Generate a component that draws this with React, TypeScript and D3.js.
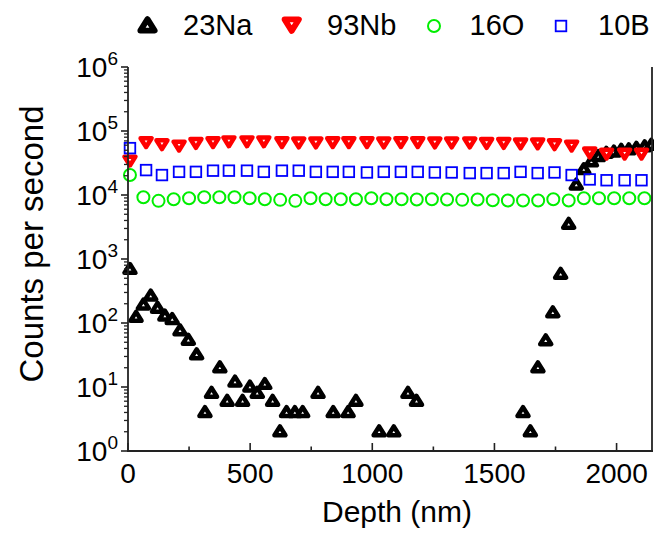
import React, { useEffect, useRef } from 'react';
import * as d3 from 'd3';

// ---- Data
const naDepth = [8, 33, 63, 93, 121, 151, 181, 213, 247, 281, 315, 342, 376, 406, 438, 469, 499, 529, 560, 592, 622, 649, 683, 715, 778, 840, 901, 933, 1028, 1088, 1146, 1181, 1617, 1647, 1678, 1710, 1739, 1771, 1804, 1835, 1866, 1897, 1926, 1958, 1989, 2019, 2050, 2081, 2115, 2142];
const naCounts = [690, 123, 192, 264, 170, 129, 114, 76, 54, 32, 4, 8, 20, 6, 12, 6, 10, 8, 11, 6, 2, 4, 4, 4, 8, 4, 4, 6, 2, 2, 8, 6, 4, 2, 20, 53, 145, 580, 3500, 14400, 25000, 33000, 40000, 45000, 47000, 50000, 51000, 54000, 57000, 60000];

const nbDepth = [8, 74, 139, 209, 278, 348, 413, 487, 556, 630, 699, 769, 838, 904, 978, 1047, 1117, 1186, 1256, 1325, 1399, 1468, 1538, 1607, 1677, 1746, 1816, 1890, 1959, 2033, 2102];
const nbCounts = [35000, 68000, 63000, 60000, 66000, 68000, 70000, 70000, 70000, 68000, 67000, 67000, 68000, 68000, 68000, 67000, 68000, 68000, 67000, 67000, 67000, 66000, 66000, 65000, 65000, 63000, 60000, 47000, 45000, 45000, 45000];

const oDepth = [8, 63, 125, 187, 250, 312, 374, 436, 498, 560, 623, 685, 747, 809, 871, 933, 996, 1058, 1120, 1182, 1244, 1306, 1368, 1431, 1493, 1555, 1617, 1679, 1741, 1804, 1866, 1928, 1990, 2052, 2114];
const oCounts = [20500, 9200, 8100, 8600, 8900, 9200, 9200, 9200, 8900, 8600, 8400, 8100, 8900, 8600, 8600, 8600, 8900, 8600, 8600, 8500, 8600, 8500, 8400, 8500, 8300, 8200, 8200, 8200, 8600, 8200, 8900, 8900, 8900, 8900, 8900];

const bDepth = nbDepth;
const bCounts = [54000, 24500, 20500, 23000, 23000, 24000, 24000, 24000, 23000, 24000, 24000, 23000, 23000, 23000, 22500, 23000, 23000, 23000, 22500, 22500, 22000, 22000, 22000, 23000, 22000, 22500, 20500, 17500, 17000, 17000, 17000];

const seriesNames = ['23Na', '93Nb', '16O', '10B'];
const xTicks = [0, 500, 1000, 1500, 2000];
const xMinorTicks = [250, 750, 1250, 1750];
const yExponents = [0, 1, 2, 3, 4, 5, 6];

const W = 654;
const H = 535;
const FONT = '"Liberation Sans", Arial, sans-serif';

export default function App() {
    const svgRef = useRef<SVGSVGElement>(null);

    useEffect(() => {
        const svg = d3.select(svgRef.current);
        svg.selectAll('*').remove();

        const left = 128, right = 652, top = 67, bottom = 451;

        const x = d3.scaleLinear().domain([0, 2145]).range([left, right]);
        const y = d3.scaleLog().domain([1, 1e6]).range([bottom, top]);

        const g = svg.append('g');

        // ---- marker shapes
        const triUp = (s: number) => {
            const h = s * 0.8;
            return `M0,${-h * 0.6}L${s / 2},${h * 0.4}L${-s / 2},${h * 0.4}Z`;
        };
        const triDown = (s: number) => {
            const h = s * 0.8;
            return `M0,${h * 0.6}L${s / 2},${-h * 0.4}L${-s / 2},${-h * 0.4}Z`;
        };

        const drawMarker = (sel: any, kind: number, scale = 1) => {
            if (kind === 0) {
                sel.append('path').attr('d', triUp(11 * scale))
                    .attr('fill', 'white').attr('stroke', '#000')
                    .attr('stroke-width', 4.5 * scale).attr('stroke-linejoin', 'round');
            } else if (kind === 1) {
                sel.append('path').attr('d', triDown(11 * scale))
                    .attr('fill', 'white').attr('stroke', '#ff0000')
                    .attr('stroke-width', 4.5 * scale).attr('stroke-linejoin', 'round');
            } else if (kind === 2) {
                sel.append('circle').attr('r', 6)
                    .attr('fill', 'none').attr('stroke', '#00ee00').attr('stroke-width', 2);
            } else {
                sel.append('rect').attr('x', -5.3).attr('y', -5.3).attr('width', 10.6).attr('height', 10.6)
                    .attr('fill', 'none').attr('stroke', '#0000ff').attr('stroke-width', 1.8);
            }
        };

        const series = [
            { depth: naDepth, counts: naCounts },
            { depth: nbDepth, counts: nbCounts },
            { depth: oDepth, counts: oCounts },
            { depth: bDepth, counts: bCounts },
        ];

        series.forEach((s, k) => {
            const pts = s.depth.map((d, i) => ({ d, c: s.counts[i] }));
            g.append('g').selectAll('g')
                .data(pts)
                .enter()
                .append('g')
                .attr('transform', p => `translate(${x(p.d)},${y(p.c)})`)
                .each(function () { drawMarker(d3.select(this), k); });
        });

        // ---- Axes frame
        const axisColor = '#222';
        g.append('line').attr('x1', left).attr('x2', left).attr('y1', top).attr('y2', bottom)
            .attr('stroke', axisColor).attr('stroke-width', 1.8);
        g.append('line').attr('x1', right).attr('x2', right).attr('y1', top).attr('y2', bottom)
            .attr('stroke', axisColor).attr('stroke-width', 1.8);
        g.append('line').attr('x1', left - 1).attr('x2', right + 1).attr('y1', bottom).attr('y2', bottom)
            .attr('stroke', axisColor).attr('stroke-width', 1.8);

        // x ticks (inward)
        xTicks.forEach(t => {
            g.append('line').attr('x1', x(t)).attr('x2', x(t)).attr('y1', bottom).attr('y2', bottom - 8)
                .attr('stroke', axisColor).attr('stroke-width', 1.6);
            g.append('text').attr('x', x(t)).attr('y', 483)
                .attr('text-anchor', 'middle').style('font-family', FONT).style('font-size', '28px')
                .text(t);
        });
        xMinorTicks.forEach(t => {
            g.append('line').attr('x1', x(t)).attr('x2', x(t)).attr('y1', bottom).attr('y2', bottom - 4.5)
                .attr('stroke', axisColor).attr('stroke-width', 1.6);
        });

        // y ticks (outward) + minor log ticks
        yExponents.forEach(e => {
            const v = Math.pow(10, e);
            g.append('line').attr('x1', left - 7).attr('x2', left).attr('y1', y(v)).attr('y2', y(v))
                .attr('stroke', axisColor).attr('stroke-width', 1.6);
            const t = g.append('text').attr('x', 118).attr('y', y(v) + 10)
                .attr('text-anchor', 'end').style('font-family', FONT).style('font-size', '28px');
            t.append('tspan').text('10');
            t.append('tspan').attr('dy', -12).style('font-size', '19px').text(String(e));
            if (e < 6) {
                for (let m = 2; m <= 9; m++) {
                    g.append('line').attr('x1', left - 4).attr('x2', left).attr('y1', y(m * v)).attr('y2', y(m * v))
                        .attr('stroke', axisColor).attr('stroke-width', 1.3);
                }
            }
        });

        // axis titles
        g.append('text').attr('x', 397).attr('y', 522)
            .attr('text-anchor', 'middle').style('font-family', FONT).style('font-size', '30px')
            .text('Depth (nm)');
        g.append('text').attr('transform', 'translate(43,244) rotate(-90)')
            .attr('text-anchor', 'middle').style('font-family', FONT).style('font-size', '33px')
            .text('Counts per second');

        // ---- Legend
        const legendMarkerX = [147.5, 291.7, 434, 561];
        const legendTextX = [183, 327, 469.5, 598];
        seriesNames.forEach((name, k) => {
            const lg = g.append('g').attr('transform', `translate(${legendMarkerX[k]},${k === 1 ? 24 : 26})`);
            drawMarker(lg, k, k < 2 ? 1.3 : 1);
            g.append('text').attr('x', legendTextX[k]).attr('y', 35)
                .style('font-family', FONT).style('font-size', '29px')
                .text(name);
        });
    }, []);

    return (
        <svg
            ref={svgRef}
            width={W}
            height={H}
            style={{ position: 'absolute', left: 0, top: 0, background: 'white' }}
        />
    );
}
